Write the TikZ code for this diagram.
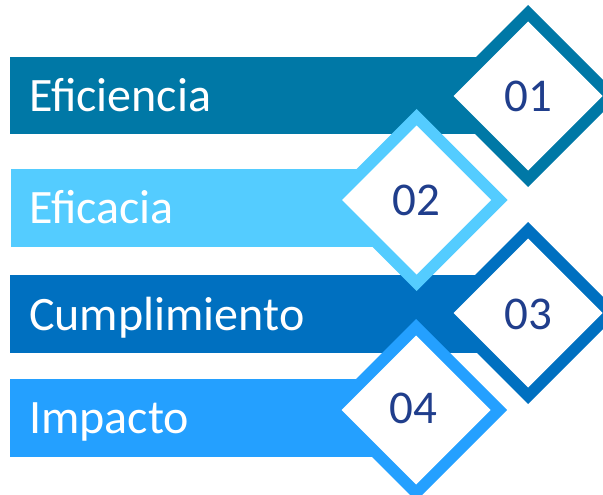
\documentclass[tikz,border=0pt]{standalone}
\usepackage{fontspec}
\setmainfont{Carlito}
\definecolor{cA}{RGB}{0,120,166}
\definecolor{cB}{RGB}{84,204,255}
\definecolor{cC}{RGB}{0,112,192}
\definecolor{cD}{RGB}{36,160,255}
\definecolor{navy}{RGB}{32,62,140}
\tikzset{
  label/.style={anchor=base west, inner sep=0pt, text=white, font=\fontsize{48}{50}\selectfont},
  num/.style={inner sep=0pt, text=navy, font=\fontsize{47}{50}\selectfont},
}
\newcommand{\mydiamond}[3]{%
  \fill[#3] (#1,#2) +(-91,0) -- +(0,91) -- +(91,0) -- +(0,-91) -- cycle;
  \fill[white] (#1,#2) +(-74.5,0) -- +(0,74.5) -- +(74.5,0) -- +(0,-74.5) -- cycle;
}
\begin{document}
\begin{tikzpicture}[x=1pt,y=-1pt]
\useasboundingbox (0,0) rectangle (603,495);
\clip (0,0) rectangle (603,495);
% bars
\fill[cA] (10,57) rectangle (528,134);
\fill[cB] (11,169) rectangle (417,247);
\fill[cC] (10,275) rectangle (528,353);
\fill[cD] (10,379) rectangle (416,457);
% diamonds
\mydiamond{528}{96}{cA}
\mydiamond{416.7}{200}{cB}
\mydiamond{528}{313}{cC}
\mydiamond{416}{410}{cD}
% labels
\node[label] (l1) at (29,111.7) {Eficiencia};
\node[label] (l2) at (29,223) {Eficacia};
\node[label] (l3) at (29,330) {Cumplimiento};
\node[label] (l4) at (29,433) {Impacto};
% numbers
\node[num] (n1) at (528,96.7) {01};
\node[num] (n2) at (416,200.8) {02};
\node[num] (n3) at (528,314) {03};
\node[num] (n4) at (413,408) {04};
\end{tikzpicture}
\end{document}
